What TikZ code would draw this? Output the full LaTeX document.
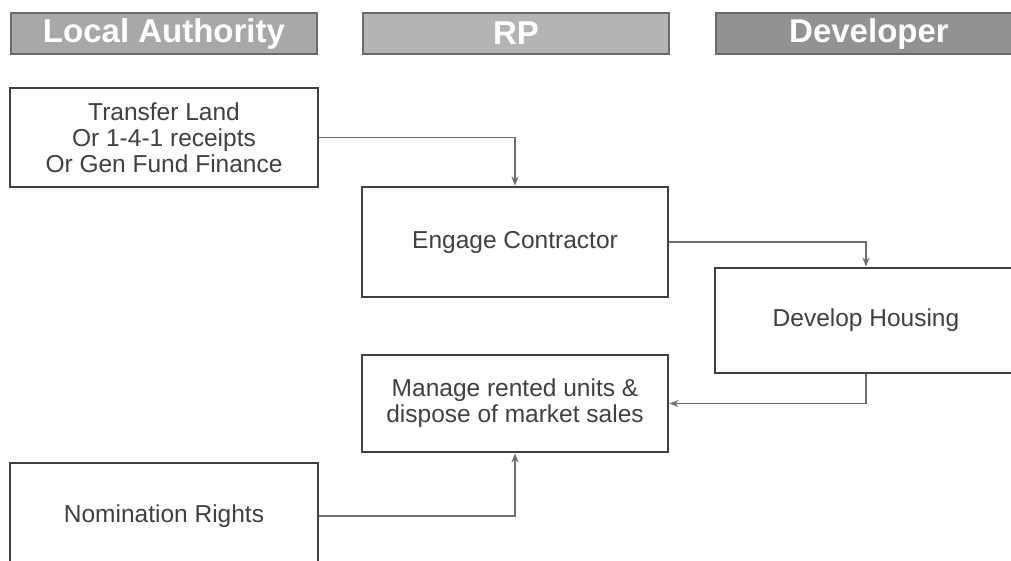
\documentclass[tikz,border=0pt]{standalone}
\usepackage{fontspec}
\setmainfont{Liberation Sans}
\usepackage{tikz}
\usetikzlibrary{arrows.meta}

\definecolor{boxline}{HTML}{404040}
\definecolor{linkgray}{HTML}{6E6E6E}
\definecolor{headA}{HTML}{A8A8A8}
\definecolor{headB}{HTML}{B4B4B4}
\definecolor{headC}{HTML}{929292}
\definecolor{headline}{HTML}{6A6A6A}

\tikzset{
  head/.style={draw=headline,line width=2.5pt,minimum width=306pt,minimum height=41pt,
    text=white,font=\fontsize{33}{36}\selectfont\bfseries,inner sep=0pt},
  stepbox/.style={draw=boxline,line width=2.8pt,fill=white,text=boxline,align=center,
    font=\fontsize{24.5}{26}\selectfont,inner sep=0pt},
  link/.style={draw=linkgray,line width=1.4pt,-{Stealth[length=9pt,width=7pt]}}
}

\begin{document}
\begin{tikzpicture}[x=1pt,y=-1pt]
\clip (0,0) rectangle (1011,560);
\fill[white] (0,0) rectangle (1011,560);

\node[head,fill=headA] (la) at (164,33.5) {Local Authority};
\node[head,fill=headB] (rp) at (516,33.5) {RP};
\node[head,fill=headC] (dev) at (869,33.5) {Developer};

\node[stepbox,minimum width=308pt,minimum height=99pt] (land) at (164,137.5)
  {Transfer Land\\Or 1-4-1 receipts\\Or Gen Fund Finance};
\node[stepbox,minimum width=306pt,minimum height=110pt] (engage) at (515,242)
  {Engage Contractor};
\node[stepbox,minimum width=302pt,minimum height=105pt] (housing) at (866,320.5)
  {Develop Housing};
\node[stepbox,minimum width=306pt,minimum height=97pt] (manage) at (515,403.5)
  {Manage rented units \&\\dispose of market sales};
\node[stepbox,minimum width=308pt,minimum height=106pt] (nomination) at (164,516)
  {Nomination Rights};

\draw[link] (land.east) -| (engage.north);
\draw[link] (engage.east) -| (housing.north);
\draw[link] (housing.south) |- (manage.east);
\draw[link] (nomination.east) -| (manage.south);

\end{tikzpicture}
\end{document}
